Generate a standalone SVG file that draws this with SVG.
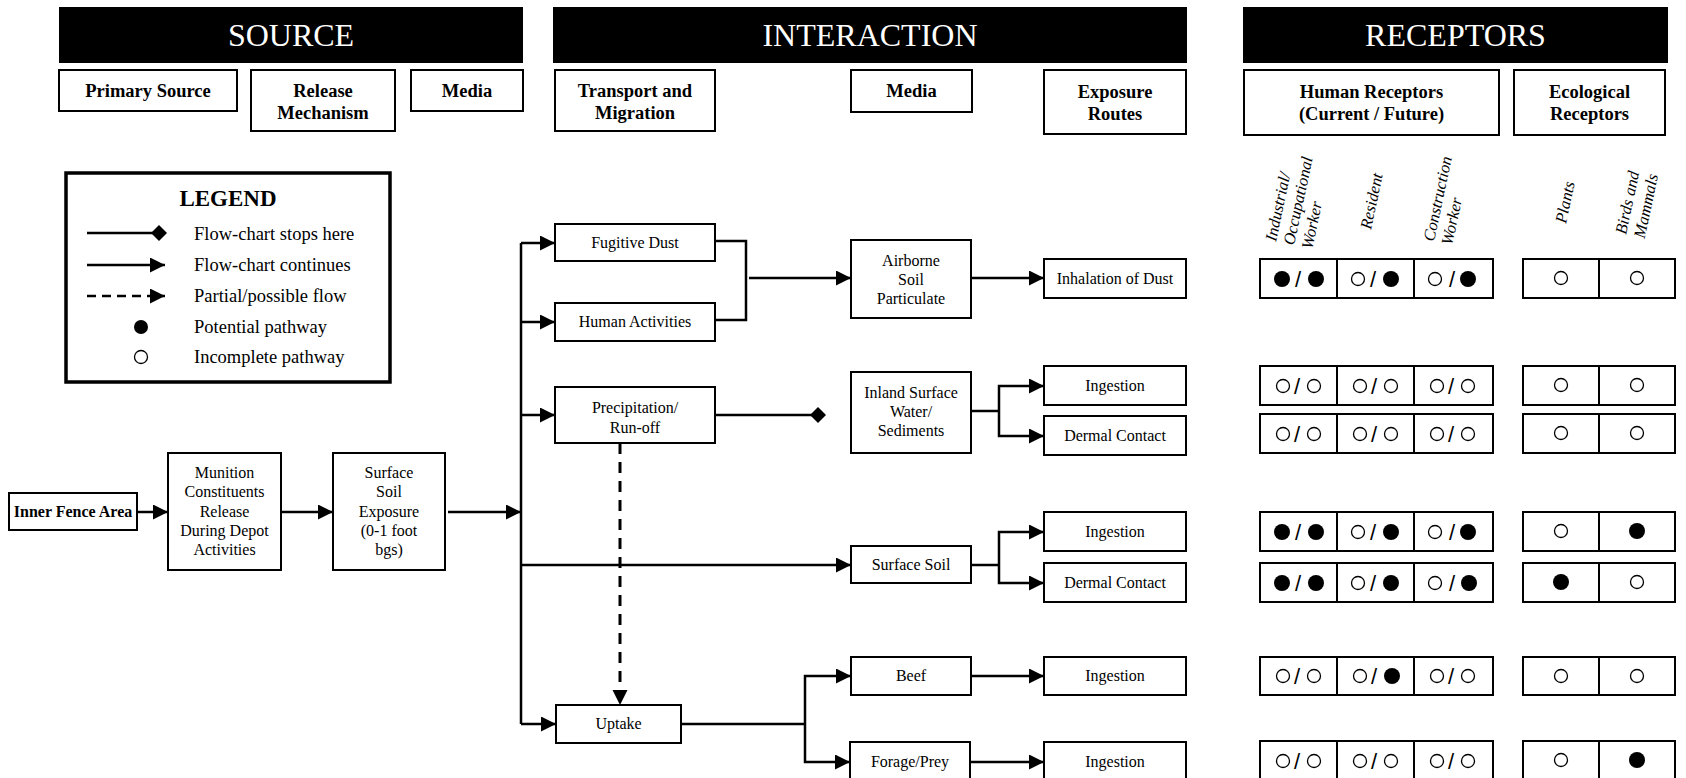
<svg xmlns="http://www.w3.org/2000/svg" width="1686" height="778" viewBox="0 0 1686 778">
<style>
text{font-family:"Liberation Serif","Times New Roman",serif;fill:#000}
.bar{fill:#000}
.bt{font-size:32px;fill:#fff;text-anchor:middle}
.box{fill:#fff;stroke:#000;stroke-width:2}
.hd{font-size:18.5px;font-weight:bold;text-anchor:middle}
.t{font-size:16px;text-anchor:middle}
.tb{font-size:16px;font-weight:bold;text-anchor:middle}
.rot{font-size:16.5px;font-style:italic}
.con{fill:none;stroke:#000;stroke-width:2.5}
.dash{fill:none;stroke:#000;stroke-width:3;stroke-dasharray:11 8}
.cell{fill:#fff;stroke:#000;stroke-width:2}
.f{fill:#000}
.o{fill:#fff;stroke:#000;stroke-width:1.3}
.sl{font-family:"Liberation Sans",Arial,sans-serif;font-size:22px;text-anchor:middle}
.lg{font-size:18.5px}
</style>
<defs>
<marker id="arr" markerUnits="userSpaceOnUse" markerWidth="16" markerHeight="16" refX="15" refY="7.5" orient="auto"><path d="M0,0 L15,7.5 L0,15 z" fill="#000"/></marker>
<marker id="dia" markerUnits="userSpaceOnUse" markerWidth="16" markerHeight="16" refX="8" refY="8" orient="auto"><path d="M0,8 L8,0 L16,8 L8,16 z" fill="#000"/></marker>
</defs>

<!-- Header bars -->
<g id="hdr-source"><rect class="bar" x="59" y="7" width="464" height="56"/><text class="bt" x="291" y="46">SOURCE</text></g>
<g id="hdr-interaction"><rect class="bar" x="553" y="7" width="634" height="56"/><text class="bt" x="870" y="46">INTERACTION</text></g>
<g id="hdr-receptors"><rect class="bar" x="1243" y="7" width="425" height="56"/><text class="bt" x="1455.5" y="46">RECEPTORS</text></g>

<!-- Sub headers -->
<g id="sh-primary"><rect class="box" x="59" y="70" width="178" height="41"/><text class="hd" x="148" y="97">Primary Source</text></g>
<g id="sh-release"><rect class="box" x="251" y="70" width="144" height="61"/><text class="hd" x="323" y="97">Release</text><text class="hd" x="323" y="119">Mechanism</text></g>
<g id="sh-media1"><rect class="box" x="411" y="70" width="112" height="41"/><text class="hd" x="467" y="97">Media</text></g>
<g id="sh-transport"><rect class="box" x="555" y="70" width="160" height="61"/><text class="hd" x="635" y="97">Transport and</text><text class="hd" x="635" y="119">Migration</text></g>
<g id="sh-media2"><rect class="box" x="851" y="70" width="121" height="42"/><text class="hd" x="911.5" y="97">Media</text></g>
<g id="sh-exposure"><rect class="box" x="1044" y="70" width="142" height="64"/><text class="hd" x="1115" y="98">Exposure</text><text class="hd" x="1115" y="120">Routes</text></g>
<g id="sh-human"><rect class="box" x="1244" y="70" width="255" height="65"/><text class="hd" x="1371.5" y="98">Human Receptors</text><text class="hd" x="1371.5" y="120">(Current / Future)</text></g>
<g id="sh-eco"><rect class="box" x="1514" y="70" width="151" height="65"/><text class="hd" x="1589.5" y="98">Ecological</text><text class="hd" x="1589.5" y="120">Receptors</text></g>

<!-- Legend -->
<g id="legend">
<rect x="66" y="173" width="324" height="209" fill="#fff" stroke="#000" stroke-width="3.5"/>
<text x="228" y="206" font-size="23" font-weight="bold" text-anchor="middle">LEGEND</text>
<line x1="87" y1="233" x2="159" y2="233" stroke="#000" stroke-width="2.5" marker-end="url(#dia)"/>
<text class="lg" x="194" y="240">Flow-chart stops here</text>
<line x1="87" y1="265" x2="165" y2="265" stroke="#000" stroke-width="2.5" marker-end="url(#arr)"/>
<text class="lg" x="194" y="271">Flow-chart continues</text>
<line x1="87" y1="296" x2="165" y2="296" stroke="#000" stroke-width="2.5" stroke-dasharray="9 6" marker-end="url(#arr)"/>
<text class="lg" x="194" y="302">Partial/possible flow</text>
<circle class="f" cx="141" cy="327" r="7"/>
<text class="lg" x="194" y="333">Potential pathway</text>
<circle class="o" cx="141" cy="357" r="6.5"/>
<text class="lg" x="194" y="363">Incomplete pathway</text>
</g>

<!-- Connectors -->
<g id="connectors">
<path class="con" d="M137,512 H168" marker-end="url(#arr)"/>
<path class="con" d="M281,512 H333" marker-end="url(#arr)"/>
<path class="con" d="M448,512 H521" marker-end="url(#arr)"/>
<path class="con" d="M521,243 V724"/>
<path class="con" d="M521,243 H555" marker-end="url(#arr)"/>
<path class="con" d="M521,322 H555" marker-end="url(#arr)"/>
<path class="con" d="M521,415 H555" marker-end="url(#arr)"/>
<path class="con" d="M521,565 H851" marker-end="url(#arr)"/>
<path class="con" d="M521,724 H556" marker-end="url(#arr)"/>
<path class="con" d="M715,241 H746 V320 H715" stroke-width="2"/>
<path class="con" d="M749,278 H851" marker-end="url(#arr)"/>
<path class="con" d="M971,278 H1044" marker-end="url(#arr)"/>
<path class="con" d="M715,415 H818" marker-end="url(#dia)"/>
<path class="con" d="M971,411 H999"/>
<path class="con" d="M999,411 V386 H1044" marker-end="url(#arr)"/>
<path class="con" d="M999,411 V436 H1044" marker-end="url(#arr)"/>
<path class="con" d="M971,565 H999"/>
<path class="con" d="M999,565 V532 H1044" marker-end="url(#arr)"/>
<path class="con" d="M999,565 V583 H1044" marker-end="url(#arr)"/>
<path class="dash" d="M620,443 V705" marker-end="url(#arr)"/>
<path class="con" d="M681,724 H805" stroke-width="2"/>
<path class="con" d="M805,724 V676 H851" marker-end="url(#arr)"/>
<path class="con" d="M805,724 V762 H850" marker-end="url(#arr)"/>
<path class="con" d="M971,676 H1044" marker-end="url(#arr)"/>
<path class="con" d="M970,762 H1044" marker-end="url(#arr)"/>
</g>

<!-- Source nodes -->
<g id="n-inner"><rect class="box" x="9" y="493" width="128" height="37"/><text class="tb" x="73" y="517">Inner Fence Area</text></g>
<g id="n-munition"><rect class="box" x="168" y="453" width="113" height="117"/>
<text class="t" x="224.5" y="478">Munition</text><text class="t" x="224.5" y="497">Constituents</text><text class="t" x="224.5" y="517">Release</text><text class="t" x="224.5" y="536">During Depot</text><text class="t" x="224.5" y="555">Activities</text></g>
<g id="n-sse"><rect class="box" x="333" y="453" width="112" height="117"/>
<text class="t" x="389" y="478">Surface</text><text class="t" x="389" y="497">Soil</text><text class="t" x="389" y="517">Exposure</text><text class="t" x="389" y="536">(0-1 foot</text><text class="t" x="389" y="555">bgs)</text></g>

<!-- Transport nodes -->
<g id="n-fugitive"><rect class="box" x="555" y="224" width="160" height="37"/><text class="t" x="635" y="248">Fugitive Dust</text></g>
<g id="n-human"><rect class="box" x="555" y="303" width="160" height="38"/><text class="t" x="635" y="327">Human Activities</text></g>
<g id="n-precip"><rect class="box" x="555" y="387" width="160" height="56"/><text class="t" x="635" y="413">Precipitation/</text><text class="t" x="635" y="433">Run-off</text></g>
<g id="n-uptake"><rect class="box" x="556" y="705" width="125" height="38"/><text class="t" x="618.5" y="729">Uptake</text></g>

<!-- Media nodes -->
<g id="n-airborne"><rect class="box" x="851" y="240" width="120" height="78"/><text class="t" x="911" y="266">Airborne</text><text class="t" x="911" y="285">Soil</text><text class="t" x="911" y="304">Particulate</text></g>
<g id="n-inland"><rect class="box" x="851" y="372" width="120" height="81"/><text class="t" x="911" y="398">Inland Surface</text><text class="t" x="911" y="417">Water/</text><text class="t" x="911" y="436">Sediments</text></g>
<g id="n-surfsoil"><rect class="box" x="851" y="546" width="120" height="37"/><text class="t" x="911" y="570">Surface Soil</text></g>
<g id="n-beef"><rect class="box" x="851" y="657" width="120" height="38"/><text class="t" x="911" y="681">Beef</text></g>
<g id="n-forage"><rect class="box" x="850" y="742" width="120" height="40"/><text class="t" x="910" y="767">Forage/Prey</text></g>

<!-- Exposure routes -->
<g id="r-inhal"><rect class="box" x="1044" y="259" width="142" height="39"/><text class="t" x="1115" y="284">Inhalation of Dust</text></g>
<g id="r-ing1"><rect class="box" x="1044" y="366" width="142" height="39"/><text class="t" x="1115" y="391">Ingestion</text></g>
<g id="r-derm1"><rect class="box" x="1044" y="416" width="142" height="39"/><text class="t" x="1115" y="441">Dermal Contact</text></g>
<g id="r-ing2"><rect class="box" x="1044" y="512" width="142" height="39"/><text class="t" x="1115" y="537">Ingestion</text></g>
<g id="r-derm2"><rect class="box" x="1044" y="563" width="142" height="39"/><text class="t" x="1115" y="588">Dermal Contact</text></g>
<g id="r-ing3"><rect class="box" x="1044" y="657" width="142" height="38"/><text class="t" x="1115" y="681">Ingestion</text></g>
<g id="r-ing4"><rect class="box" x="1044" y="742" width="142" height="40"/><text class="t" x="1115" y="767">Ingestion</text></g>

<!-- Receptor labels -->
<g id="receptor-labels">
<text class="rot" transform="translate(1276,242) rotate(-78)"><tspan x="0" y="0">Industrial/</tspan><tspan x="0" y="18.5">Occupational</tspan><tspan x="0" y="37">Worker</tspan></text>
<text class="rot" transform="translate(1371,230) rotate(-78)">Resident</text>
<text class="rot" transform="translate(1434,242) rotate(-78)"><tspan x="0" y="0">Construction</tspan><tspan x="0" y="18.5">Worker</tspan></text>
<text class="rot" transform="translate(1566,224) rotate(-78)">Plants</text>
<text class="rot" transform="translate(1626,235) rotate(-78)"><tspan x="0" y="0">Birds and</tspan><tspan x="0" y="19">Mammals</tspan></text>
</g>

<!-- Receptor rows -->
<g id="row1">
<rect class="cell" x="1260" y="259" width="77" height="39"/><rect class="cell" x="1337" y="259" width="77" height="39"/><rect class="cell" x="1414" y="259" width="79" height="39"/>
<rect class="cell" x="1523" y="259" width="76" height="39"/><rect class="cell" x="1599" y="259" width="76" height="39"/>
<circle class="f" cx="1282" cy="279" r="8"/><text class="sl" x="1298" y="287">/</text><circle class="f" cx="1316" cy="279" r="8"/>
<circle class="o" cx="1358" cy="279" r="6.5"/><text class="sl" x="1373" y="287">/</text><circle class="f" cx="1391" cy="279" r="8"/>
<circle class="o" cx="1435" cy="279" r="6.5"/><text class="sl" x="1452" y="287">/</text><circle class="f" cx="1468" cy="279" r="8"/>
<circle class="o" cx="1561" cy="278" r="6.5"/><circle class="o" cx="1637" cy="278" r="6.5"/>
</g>
<g id="row2">
<rect class="cell" x="1260" y="366" width="77" height="39"/><rect class="cell" x="1337" y="366" width="77" height="39"/><rect class="cell" x="1414" y="366" width="79" height="39"/>
<rect class="cell" x="1523" y="366" width="76" height="39"/><rect class="cell" x="1599" y="366" width="76" height="39"/>
<circle class="o" cx="1283" cy="386" r="6.5"/><text class="sl" x="1297" y="394">/</text><circle class="o" cx="1314" cy="386" r="6.5"/>
<circle class="o" cx="1360" cy="386" r="6.5"/><text class="sl" x="1374" y="394">/</text><circle class="o" cx="1391" cy="386" r="6.5"/>
<circle class="o" cx="1437" cy="386" r="6.5"/><text class="sl" x="1451" y="394">/</text><circle class="o" cx="1468" cy="386" r="6.5"/>
<circle class="o" cx="1561" cy="385" r="6.5"/><circle class="o" cx="1637" cy="385" r="6.5"/>
</g>
<g id="row3">
<rect class="cell" x="1260" y="414" width="77" height="39"/><rect class="cell" x="1337" y="414" width="77" height="39"/><rect class="cell" x="1414" y="414" width="79" height="39"/>
<rect class="cell" x="1523" y="414" width="76" height="39"/><rect class="cell" x="1599" y="414" width="76" height="39"/>
<circle class="o" cx="1283" cy="434" r="6.5"/><text class="sl" x="1297" y="442">/</text><circle class="o" cx="1314" cy="434" r="6.5"/>
<circle class="o" cx="1360" cy="434" r="6.5"/><text class="sl" x="1374" y="442">/</text><circle class="o" cx="1391" cy="434" r="6.5"/>
<circle class="o" cx="1437" cy="434" r="6.5"/><text class="sl" x="1451" y="442">/</text><circle class="o" cx="1468" cy="434" r="6.5"/>
<circle class="o" cx="1561" cy="433" r="6.5"/><circle class="o" cx="1637" cy="433" r="6.5"/>
</g>
<g id="row4">
<rect class="cell" x="1260" y="512" width="77" height="39"/><rect class="cell" x="1337" y="512" width="77" height="39"/><rect class="cell" x="1414" y="512" width="79" height="39"/>
<rect class="cell" x="1523" y="512" width="76" height="39"/><rect class="cell" x="1599" y="512" width="76" height="39"/>
<circle class="f" cx="1282" cy="532" r="8"/><text class="sl" x="1298" y="540">/</text><circle class="f" cx="1316" cy="532" r="8"/>
<circle class="o" cx="1358" cy="532" r="6.5"/><text class="sl" x="1373" y="540">/</text><circle class="f" cx="1391" cy="532" r="8"/>
<circle class="o" cx="1435" cy="532" r="6.5"/><text class="sl" x="1452" y="540">/</text><circle class="f" cx="1468" cy="532" r="8"/>
<circle class="o" cx="1561" cy="531" r="6.5"/><circle class="f" cx="1637" cy="531" r="8"/>
</g>
<g id="row5">
<rect class="cell" x="1260" y="563" width="77" height="39"/><rect class="cell" x="1337" y="563" width="77" height="39"/><rect class="cell" x="1414" y="563" width="79" height="39"/>
<rect class="cell" x="1523" y="563" width="76" height="39"/><rect class="cell" x="1599" y="563" width="76" height="39"/>
<circle class="f" cx="1282" cy="583" r="8"/><text class="sl" x="1298" y="591">/</text><circle class="f" cx="1316" cy="583" r="8"/>
<circle class="o" cx="1358" cy="583" r="6.5"/><text class="sl" x="1373" y="591">/</text><circle class="f" cx="1391" cy="583" r="8"/>
<circle class="o" cx="1435" cy="583" r="6.5"/><text class="sl" x="1452" y="591">/</text><circle class="f" cx="1469" cy="583" r="8"/>
<circle class="f" cx="1561" cy="582" r="8"/><circle class="o" cx="1637" cy="582" r="6.5"/>
</g>
<g id="row6">
<rect class="cell" x="1260" y="657" width="77" height="38"/><rect class="cell" x="1337" y="657" width="77" height="38"/><rect class="cell" x="1414" y="657" width="79" height="38"/>
<rect class="cell" x="1523" y="657" width="76" height="38"/><rect class="cell" x="1599" y="657" width="76" height="38"/>
<circle class="o" cx="1283" cy="676" r="6.5"/><text class="sl" x="1297" y="684">/</text><circle class="o" cx="1314" cy="676" r="6.5"/>
<circle class="o" cx="1360" cy="676" r="6.5"/><text class="sl" x="1374" y="684">/</text><circle class="f" cx="1392" cy="676" r="8"/>
<circle class="o" cx="1437" cy="676" r="6.5"/><text class="sl" x="1451" y="684">/</text><circle class="o" cx="1468" cy="676" r="6.5"/>
<circle class="o" cx="1561" cy="676" r="6.5"/><circle class="o" cx="1637" cy="676" r="6.5"/>
</g>
<g id="row7">
<rect class="cell" x="1260" y="741" width="77" height="41"/><rect class="cell" x="1337" y="741" width="77" height="41"/><rect class="cell" x="1414" y="741" width="79" height="41"/>
<rect class="cell" x="1523" y="741" width="76" height="41"/><rect class="cell" x="1599" y="741" width="76" height="41"/>
<circle class="o" cx="1283" cy="761" r="6.5"/><text class="sl" x="1297" y="769">/</text><circle class="o" cx="1314" cy="761" r="6.5"/>
<circle class="o" cx="1360" cy="761" r="6.5"/><text class="sl" x="1374" y="769">/</text><circle class="o" cx="1391" cy="761" r="6.5"/>
<circle class="o" cx="1437" cy="761" r="6.5"/><text class="sl" x="1451" y="769">/</text><circle class="o" cx="1468" cy="761" r="6.5"/>
<circle class="o" cx="1561" cy="760" r="6.5"/><circle class="f" cx="1637" cy="760" r="8"/>
</g>
</svg>
